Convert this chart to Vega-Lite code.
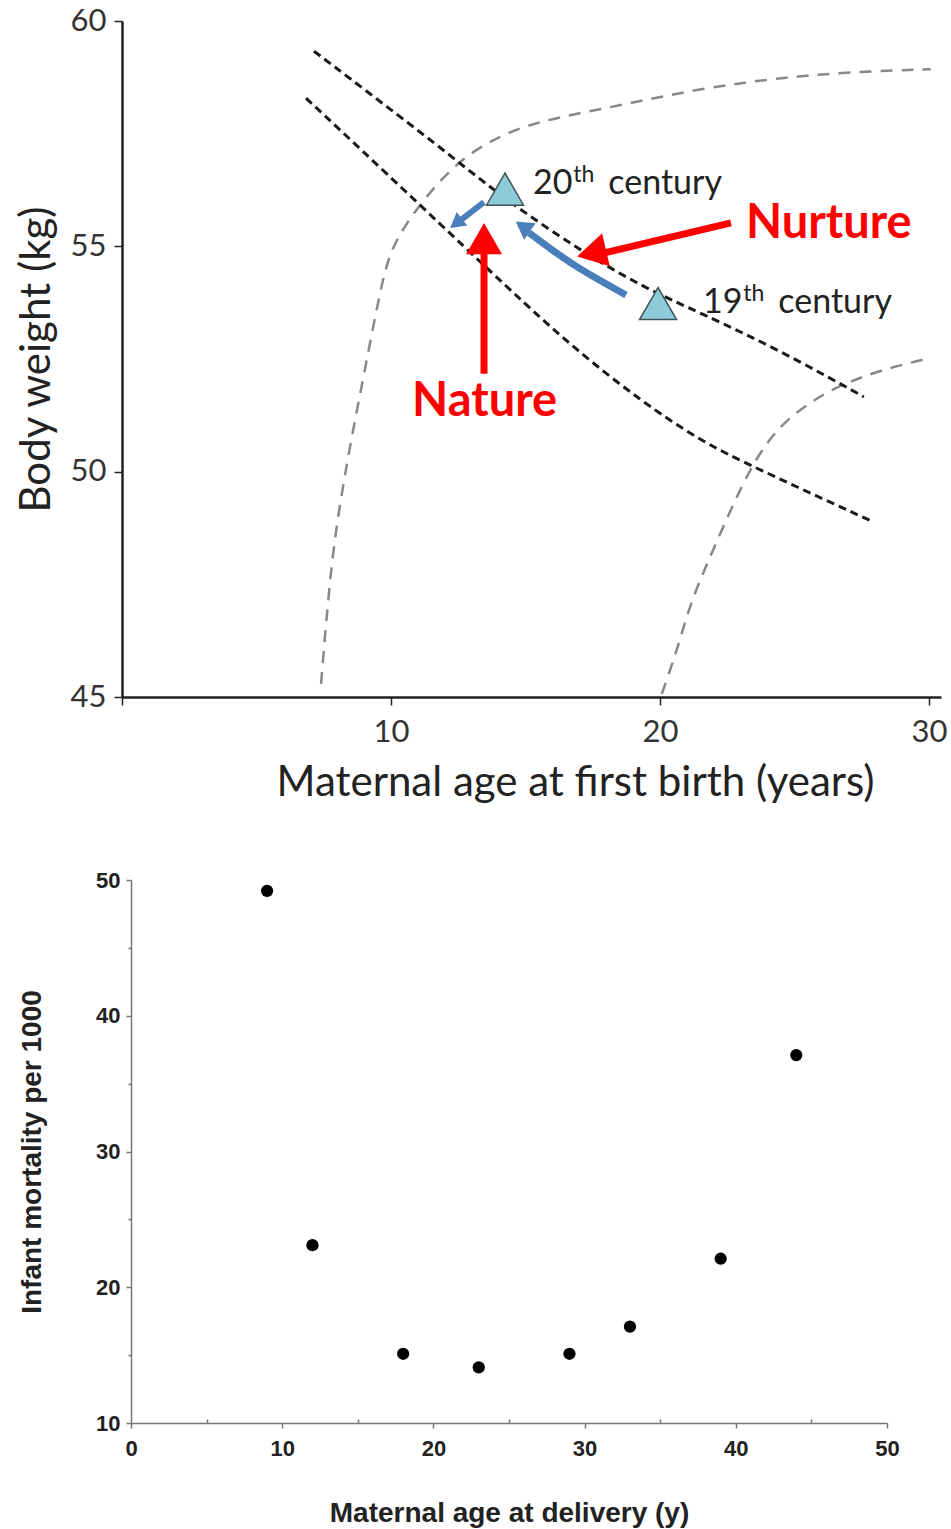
{
  "$schema": "https://vega.github.io/schema/vega-lite/v6.json",
  "background": "white",
  "padding": {"left": 15, "top": 5, "right": 5, "bottom": 5},
  "config": {"view": {"stroke": null}},
  "spacing": 66,
  "datasets": {
    "curves": [
      {"curve": "upper", "x": 7.14, "y": 59.33}, {"curve": "upper", "x": 9.63, "y": 58.20}, {"curve": "upper", "x": 12.34, "y": 56.96},
      {"curve": "upper", "x": 14.31, "y": 56.01}, {"curve": "upper", "x": 17.06, "y": 54.90}, {"curve": "upper", "x": 19.41, "y": 54.08},
      {"curve": "upper", "x": 21.52, "y": 53.52}, {"curve": "upper", "x": 24.50, "y": 52.68}, {"curve": "upper", "x": 27.58, "y": 51.66},
      {"curve": "lower", "x": 6.84, "y": 58.29}, {"curve": "lower", "x": 10.99, "y": 55.97}, {"curve": "lower", "x": 14.46, "y": 54.01},
      {"curve": "lower", "x": 16.80, "y": 52.74}, {"curve": "lower", "x": 19.29, "y": 51.57}, {"curve": "lower", "x": 21.52, "y": 50.68},
      {"curve": "lower", "x": 23.38, "y": 50.13}, {"curve": "lower", "x": 27.84, "y": 48.91}
    ],
    "isolines": [
      {"curve": "left", "x": 7.40, "y": 45.29}, {"curve": "left", "x": 7.77, "y": 47.95}, {"curve": "left", "x": 8.14, "y": 49.42},
      {"curve": "left", "x": 8.51, "y": 50.68}, {"curve": "left", "x": 9.00, "y": 52.17}, {"curve": "left", "x": 9.63, "y": 54.12},
      {"curve": "left", "x": 10.00, "y": 54.96}, {"curve": "left", "x": 10.86, "y": 55.78}, {"curve": "left", "x": 12.34, "y": 56.83},
      {"curve": "left", "x": 13.83, "y": 57.40}, {"curve": "left", "x": 15.46, "y": 57.78}, {"curve": "left", "x": 18.07, "y": 58.07},
      {"curve": "left", "x": 21.52, "y": 58.51}, {"curve": "left", "x": 24.76, "y": 58.76}, {"curve": "left", "x": 27.21, "y": 58.87},
      {"curve": "left", "x": 30.07, "y": 58.93},
      {"curve": "right", "x": 20.07, "y": 45.07}, {"curve": "right", "x": 20.63, "y": 46.02}, {"curve": "right", "x": 21.15, "y": 47.13},
      {"curve": "right", "x": 22.01, "y": 48.31}, {"curve": "right", "x": 23.38, "y": 50.17}, {"curve": "right", "x": 24.50, "y": 51.06},
      {"curve": "right", "x": 25.61, "y": 51.55}, {"curve": "right", "x": 26.62, "y": 51.90}, {"curve": "right", "x": 28.22, "y": 52.26},
      {"curve": "right", "x": 29.89, "y": 52.50}
    ],
    "centuries": [
      {"label": "20th century", "x": 14.24, "y": 56.27},
      {"label": "19th century", "x": 19.93, "y": 53.73}
    ],
    "centuryText": [
      {"part": "num", "text": "20", "x": 15.28, "y": 56.16},
      {"part": "sup", "text": "th", "x": 16.78, "y": 56.42},
      {"part": "rest", "text": "century", "x": 18.08, "y": 56.16},
      {"part": "num", "text": "19", "x": 21.60, "y": 53.52},
      {"part": "sup", "text": "th", "x": 23.10, "y": 53.78},
      {"part": "rest", "text": "century", "x": 24.40, "y": 53.52}
    ],
    "mortality": [
      {"age": 9, "mortality": 49.2},
      {"age": 12, "mortality": 23.1},
      {"age": 18, "mortality": 15.1},
      {"age": 23, "mortality": 14.1},
      {"age": 29, "mortality": 15.1},
      {"age": 33, "mortality": 17.1},
      {"age": 39, "mortality": 22.1},
      {"age": 44, "mortality": 37.1}
    ]
  },
  "vconcat": [
    {
      "width": 810,
      "height": 676,
      "encoding": {
        "x": {
          "field": "x", "type": "quantitative",
          "scale": {"domain": [0, 30.45], "range": [-9, 810], "nice": false, "zero": false},
          "axis": {
            "title": "Maternal age at first birth (years)",
            "values": [0, 10, 20, 30],
            "labelExpr": "datum.value == 0 ? '' : datum.label",
            "grid": false,
            "domainColor": "#222", "domainWidth": 2.5,
            "tickColor": "#222", "tickWidth": 1.5, "tickSize": 8,
            "labelFont": "Lato", "labelFontSize": 31, "labelColor": "#333", "labelPadding": 12,
            "labelOverlap": false, "labelFlush": false,
            "titleFont": "Lato", "titleFontSize": 42, "titleFontWeight": "normal", "titleColor": "#222",
            "titlePadding": 15, "titleX": 444
          }
        },
        "y": {
          "field": "y", "type": "quantitative",
          "scale": {"domain": [45, 60], "nice": false, "zero": false},
          "axis": {
            "title": "Body weight (kg)",
            "values": [45, 50, 55, 60],
            "offset": 9,
            "grid": false,
            "domainColor": "#222", "domainWidth": 2.5,
            "tickColor": "#222", "tickWidth": 1.5, "tickSize": 8,
            "labelFont": "Lato", "labelFontSize": 31, "labelColor": "#333", "labelPadding": 8,
            "labelOverlap": false, "labelFlush": false,
            "titleFont": "Lato", "titleFontSize": 42, "titleFontWeight": "normal", "titleColor": "#222",
            "titlePadding": 12
          }
        }
      },
      "layer": [
        {
          "data": {"name": "isolines"},
          "mark": {"type": "line", "interpolate": "basis", "color": "#888888", "strokeWidth": 2.5, "strokeDash": [12, 9]},
          "encoding": {"detail": {"field": "curve"}}
        },
        {
          "data": {"name": "curves"},
          "mark": {"type": "line", "interpolate": "basis", "color": "#1a1a1a", "strokeWidth": 3, "strokeDash": [8, 5]},
          "encoding": {"detail": {"field": "curve"}}
        },
        {
          "data": {"name": "centuries"},
          "mark": {"type": "point", "shape": "triangle-up", "size": 1370, "filled": true, "fill": "#8dcbd8", "stroke": "#41525a", "strokeWidth": 1.5, "opacity": 1}
        },
        {
          "data": {"values": [
            {"x": 18.74, "y": 53.92}, {"x": 17.81, "y": 54.23}, {"x": 16.88, "y": 54.56}, {"x": 15.95, "y": 54.94}, {"x": 15.13, "y": 55.30}
          ]},
          "mark": {"type": "line", "interpolate": "natural", "color": "#4a7ebb", "strokeWidth": 7, "strokeCap": "butt"}
        },
        {
          "data": {"values": [{"x": 14.90, "y": 55.44}]},
          "mark": {"type": "point", "shape": "triangle-up", "angle": 305, "size": 400, "filled": true, "color": "#4a7ebb", "opacity": 1}
        },
        {
          "data": {"values": [{"x": 13.46, "y": 55.98, "x2": 12.57, "y2": 55.57}]},
          "mark": {"type": "rule", "color": "#4a7ebb", "strokeWidth": 6},
          "encoding": {"x2": {"field": "x2"}, "y2": {"field": "y2"}}
        },
        {
          "data": {"values": [{"x": 12.42, "y": 55.51}]},
          "mark": {"type": "point", "shape": "triangle-up", "angle": 232, "size": 300, "filled": true, "color": "#4a7ebb", "opacity": 1}
        },
        {
          "data": {"values": [{"x": 22.64, "y": 55.52, "x2": 17.62, "y2": 54.81}, {"x": 13.46, "y": 52.17, "x2": 13.46, "y2": 55.01}]},
          "mark": {"type": "rule", "color": "#ff0000", "strokeWidth": 7},
          "encoding": {"x2": {"field": "x2"}, "y2": {"field": "y2"}}
        },
        {
          "data": {"values": [{"x": 17.46, "y": 54.85}]},
          "mark": {"type": "point", "shape": "triangle-up", "angle": 257, "size": 1156, "filled": true, "color": "#ff0000", "opacity": 1}
        },
        {
          "data": {"values": [{"x": 13.46, "y": 55.17}]},
          "mark": {"type": "point", "shape": "triangle-up", "angle": 0, "size": 1296, "filled": true, "color": "#ff0000", "opacity": 1}
        },
        {
          "data": {"name": "centuryText"},
          "transform": [{"filter": "datum.part != 'sup'"}],
          "mark": {"type": "text", "align": "left", "baseline": "alphabetic", "font": "Lato", "fontSize": 34, "color": "#222"},
          "encoding": {"text": {"field": "text"}}
        },
        {
          "data": {"name": "centuryText"},
          "transform": [{"filter": "datum.part == 'sup'"}],
          "mark": {"type": "text", "align": "left", "baseline": "alphabetic", "font": "Lato", "fontSize": 23, "color": "#222"},
          "encoding": {"text": {"field": "text"}}
        },
        {
          "data": {"values": [
            {"text": "Nurture", "x": 26.28, "y": 55.19},
            {"text": "Nature", "x": 13.48, "y": 51.24}
          ]},
          "mark": {"type": "text", "align": "center", "baseline": "alphabetic", "font": "Lato", "fontSize": 47, "fontWeight": "bold", "color": "#ff0000"},
          "encoding": {"text": {"field": "text"}}
        }
      ]
    },
    {
      "width": 756,
      "height": 543,
      "data": {"name": "mortality"},
      "layer": [
        {
          "mark": {"type": "circle", "size": 150, "color": "#000000", "opacity": 1},
          "encoding": {
            "x": {
              "field": "age", "type": "quantitative",
              "scale": {"domain": [0, 50], "nice": false},
              "axis": {
                "title": "Maternal age at delivery (y)",
                "values": [0, 10, 20, 30, 40, 50],
                "grid": false,
                "domainColor": "#777", "domainWidth": 1.5,
                "tickColor": "#777", "tickWidth": 1.5, "tickSize": 5,
                "labelFont": "Liberation Sans", "labelFontWeight": "bold", "labelFontSize": 22, "labelColor": "#222", "labelPadding": 10,
                "labelOverlap": false, "labelFlush": false,
                "titleFont": "Liberation Sans", "titleFontWeight": "bold", "titleFontSize": 28, "titleColor": "#222",
                "titlePadding": 40
              }
            },
            "y": {
              "field": "mortality", "type": "quantitative",
              "scale": {"domain": [10, 50], "nice": false, "zero": false},
              "axis": {
                "title": "Infant mortality per 1000",
                "values": [10, 20, 30, 40, 50],
                "grid": false,
                "domainColor": "#777", "domainWidth": 1.5,
                "tickColor": "#777", "tickWidth": 1.5, "tickSize": 5,
                "labelFont": "Liberation Sans", "labelFontWeight": "bold", "labelFontSize": 22, "labelColor": "#222", "labelPadding": 6,
                "labelOverlap": false, "labelFlush": false,
                "titleFont": "Liberation Sans", "titleFontWeight": "bold", "titleFontSize": 28, "titleColor": "#222",
                "titlePadding": 49
              }
            }
          }
        },
        {
          "mark": {"type": "circle", "opacity": 0},
          "encoding": {
            "x": {
              "field": "age", "type": "quantitative",
              "scale": {"domain": [0, 50], "nice": false},
              "axis": {"orient": "bottom", "title": null, "values": [5, 15, 25, 35, 45], "labels": false, "domain": false, "grid": false, "tickColor": "#777", "tickWidth": 1.5, "tickSize": -4}
            },
            "y": {
              "field": "mortality", "type": "quantitative",
              "scale": {"domain": [10, 50], "nice": false, "zero": false},
              "axis": {"orient": "left", "title": null, "values": [15, 25, 35, 45], "labels": false, "domain": false, "grid": false, "tickColor": "#777", "tickWidth": 1.5, "tickSize": 3}
            }
          }
        }
      ],
      "resolve": {"axis": {"x": "independent", "y": "independent"}}
    }
  ]
}
